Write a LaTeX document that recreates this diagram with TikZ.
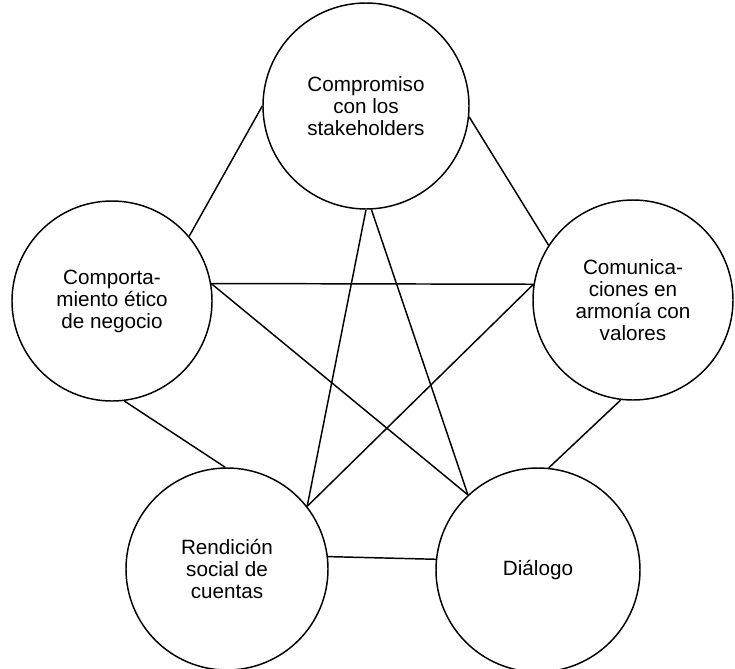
\documentclass[tikz,border=0pt]{standalone}
\usepackage{fontspec}
\setmainfont{Liberation Sans}
\begin{document}
\begin{tikzpicture}[x=0.75pt,y=-0.75pt,
  topic/.style={circle,draw,line width=1.1pt,inner sep=0pt,align=center,
    font=\fontsize{15.5pt}{16.5pt}\selectfont},
  link/.style={line width=1.1pt}]
  \useasboundingbox (0,0) rectangle (735,668);
  \clip (0,0) rectangle (735,668);

  % the five themes
  \node[topic,minimum size=154.5pt] (stake) at (366,106)
    {Compromiso\\con los\\stakeholders};
  \node[topic,minimum size=150pt] (etico) at (112,301)
    {Comporta-\\miento ético\\de negocio};
  \node[topic,minimum size=150pt] (comun) at (633,300)
    {Comunica-\\ciones en\\armonía con\\valores};
  \node[topic,minimum size=151.5pt] (rendicion) at (227,569)
    {Rendición\\social de\\cuentas};
  \node[topic,minimum size=153pt] (dialogo) at (538,570)
    {Diálogo};

  % outer ring
  \draw[link] (stake.180) -- (etico.40);
  \draw[link] (stake.354) -- (comun.147);
  \draw[link] (etico.277) -- (rendicion.91);
  \draw[link] (comun.263) -- (dialogo.84);
  \draw[link] (rendicion.7) -- (dialogo.174);

  % inner star
  \draw[link] (etico.10) -- (comun.171);
  \draw[link] (etico.10) -- (dialogo.133);
  \draw[link] (stake.270) -- (rendicion.38);
  \draw[link] (stake.273) -- (dialogo.133);
  \draw[link] (comun.171) -- (rendicion.38);
\end{tikzpicture}
\end{document}
